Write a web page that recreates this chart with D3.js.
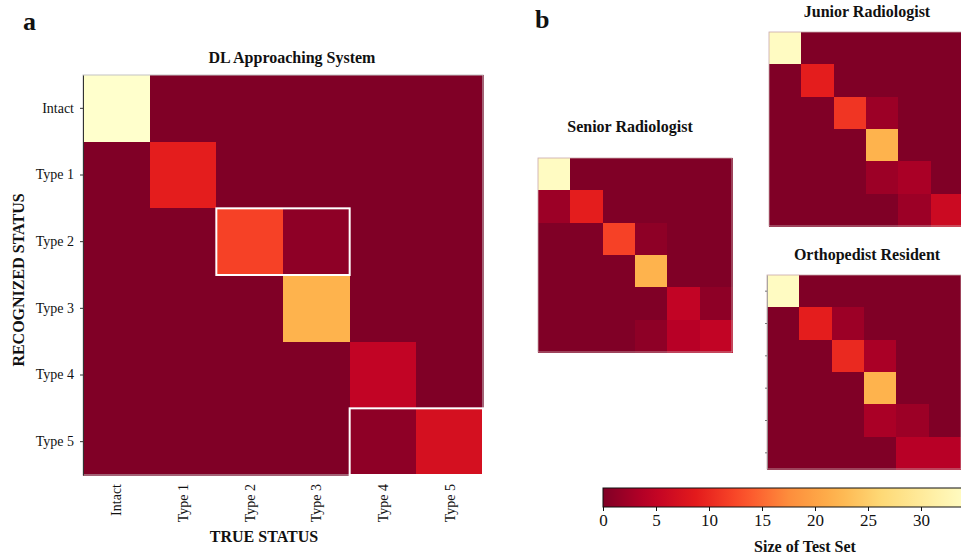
<!DOCTYPE html>
<html>
<head>
<meta charset="utf-8">
<script src="https://cdn.jsdelivr.net/npm/d3@7"></script>
<style>
  html, body { margin: 0; padding: 0; background: #fff; }
  svg { display: block; }
  text { font-family: "Liberation Serif", "Times New Roman", serif; fill: #111; }
</style>
</head>
<body>
<svg id="chart" width="961" height="556"></svg>
<script>
// ---------- data ----------
const categories = ["Intact", "Type 1", "Type 2", "Type 3", "Type 4", "Type 5"];
const colorMax = 35;
const colorTicks = [0, 5, 10, 15, 20, 25, 30];

// rows = recognized status, columns = true status
const dlMatrix = [
  [35, 0, 0, 0, 0, 0],
  [0, 9, 0, 0, 0, 0],
  [0, 0, 12, 1, 0, 0],
  [0, 0, 0, 22, 0, 0],
  [0, 0, 0, 0, 5, 0],
  [0, 0, 0, 0, 1, 7]
];
const seniorMatrix = [
  [34, 0, 0, 0, 0, 0],
  [2, 9, 0, 0, 0, 0],
  [0, 0, 12, 1, 0, 0],
  [0, 0, 0, 22, 0, 0],
  [0, 0, 0, 0, 5, 1],
  [0, 0, 0, 1, 4, 5]
];
const juniorMatrix = [
  [34, 0, 0, 0, 0, 0],
  [0, 9, 0, 0, 0, 0],
  [0, 0, 11, 2, 0, 0],
  [0, 0, 0, 22, 0, 0],
  [0, 0, 0, 2, 3, 0],
  [0, 0, 0, 0, 2, 6]
];
const residentMatrix = [
  [34, 0, 0, 0, 0, 0],
  [0, 9, 2, 0, 0, 0],
  [0, 0, 10, 3, 0, 0],
  [0, 0, 0, 22, 0, 0],
  [0, 0, 0, 3, 2, 0],
  [0, 0, 0, 0, 4, 4]
];
const highlights = [
  { row: "Type 2", from: "Type 2", to: "Type 3" },
  { row: "Type 5", from: "Type 4", to: "Type 5" }
];

// ---------- colour ----------
const interp = d3.piecewise(d3.interpolateRgb, d3.schemeYlOrRd[9].slice().reverse());
const color = d3.scaleSequential(interp).domain([0, colorMax]);

const svg = d3.select("#chart");

function cellsOf(matrix) {
  const out = [];
  matrix.forEach((row, i) => row.forEach((v, j) => out.push({ r: categories[i], c: categories[j], v })));
  return out;
}

function drawHeatmap(g, matrix, x, y) {
  g.append("g").selectAll("rect").data(cellsOf(matrix)).join("rect")
    .attr("x", d => x(d.c))
    .attr("y", d => y(d.r))
    .attr("width", x.bandwidth() + 0.5)
    .attr("height", y.bandwidth() + 0.5)
    .attr("fill", d => color(d.v))
    .attr("shape-rendering", "crispEdges");
}

// ---------- panel a ----------
const mainX = d3.scaleBand().domain(categories).range([83, 483]);
const mainY = d3.scaleBand().domain(categories).range([75, 475]);
const gA = svg.append("g");
drawHeatmap(gA, dlMatrix, mainX, mainY);
gA.append("rect")
  .attr("x", 83).attr("y", 75).attr("width", 400).attr("height", 400)
  .attr("fill", "none").attr("stroke", "#c4c4c4").attr("stroke-width", 1);

// highlight boxes
gA.append("g").selectAll("rect").data(highlights).join("rect")
  .attr("x", d => mainX(d.from))
  .attr("y", d => mainY(d.row))
  .attr("width", d => mainX(d.to) + mainX.bandwidth() - mainX(d.from))
  .attr("height", mainY.bandwidth())
  .attr("fill", "none").attr("stroke", "#fff").attr("stroke-width", 2);

// y axis
const yAx = gA.append("g").attr("transform", "translate(83,0)")
  .call(d3.axisLeft(mainY).tickSize(3).tickSizeOuter(0).tickPadding(6));
yAx.select(".domain").attr("stroke", "#333");
yAx.selectAll("line").attr("stroke", "#333");
yAx.selectAll("text").style("font-size", "14px").style("font-family", "Liberation Serif");

// x axis
const xAx = gA.append("g").attr("transform", "translate(0,475)")
  .call(d3.axisBottom(mainX).tickSize(0));
xAx.select(".domain").remove();
xAx.selectAll("text")
  .attr("transform", "rotate(-90)")
  .attr("x", -9).attr("y", 0).attr("dy", "0.35em")
  .style("text-anchor", "end")
  .style("font-size", "14px").style("font-family", "Liberation Serif");

svg.append("text").attr("x", 292).attr("y", 63).attr("text-anchor", "middle")
  .style("font-size", "16px").style("font-weight", "bold").text("DL Approaching System");
svg.append("text").attr("x", 264).attr("y", 542).attr("text-anchor", "middle")
  .style("font-size", "16px").style("font-weight", "bold").text("TRUE STATUS");
svg.append("text").attr("transform", "translate(24,280) rotate(-90)").attr("text-anchor", "middle")
  .style("font-size", "16px").style("font-weight", "bold").text("RECOGNIZED STATUS");
svg.append("text").attr("x", 23).attr("y", 30)
  .style("font-size", "26px").style("font-weight", "bold").text("a");
svg.append("text").attr("x", 535).attr("y", 28)
  .style("font-size", "26px").style("font-weight", "bold").text("b");

// ---------- panel b ----------
const small = [
  { title: "Senior Radiologist", m: seniorMatrix, x0: 538, y0: 158, tx: 630, ty: 132, ticks: false },
  { title: "Junior Radiologist", m: juniorMatrix, x0: 769, y0: 32, tx: 867, ty: 17, ticks: false },
  { title: "Orthopedist Resident", m: residentMatrix, x0: 767, y0: 275, tx: 867, ty: 260, ticks: true }
];
small.forEach(p => {
  const sx = d3.scaleBand().domain(categories).range([p.x0, p.x0 + 194]);
  const sy = d3.scaleBand().domain(categories).range([p.y0, p.y0 + 194]);
  const g = svg.append("g");
  drawHeatmap(g, p.m, sx, sy);
  g.append("rect").attr("x", p.x0).attr("y", p.y0).attr("width", 194).attr("height", 194)
    .attr("fill", "none").attr("stroke", "#c9a8ac").attr("stroke-width", 0.8);
  if (p.ticks) {
    const ax = g.append("g").attr("transform", `translate(${p.x0},0)`)
      .call(d3.axisLeft(sy).tickSize(2).tickSizeOuter(0).tickFormat(""));
    ax.select(".domain").attr("stroke", "#999").attr("stroke-width", 0.8);
    ax.selectAll("line").attr("stroke", "#777");
  }
  svg.append("text").attr("x", p.tx).attr("y", p.ty).attr("text-anchor", "middle")
    .style("font-size", "16px").style("font-weight", "bold").text(p.title);
});

// ---------- colour bar ----------
const cbX = d3.scaleLinear().domain([0, colorMax]).range([603, 974]);
const defs = svg.append("defs");
const grad = defs.append("linearGradient").attr("id", "cbgrad")
  .attr("gradientUnits", "userSpaceOnUse")
  .attr("x1", cbX(0)).attr("x2", cbX(colorMax)).attr("y1", 0).attr("y2", 0);
grad.selectAll("stop").data(d3.range(0, 1.0001, 0.05)).join("stop")
  .attr("offset", d => d)
  .attr("stop-color", d => color(d * colorMax));
svg.append("rect").attr("x", cbX(0)).attr("y", 488)
  .attr("width", cbX(colorMax) - cbX(0)).attr("height", 19)
  .attr("fill", "url(#cbgrad)").attr("stroke", "#111").attr("stroke-width", 1);
const cbAx = svg.append("g").attr("transform", "translate(0,507)")
  .call(d3.axisBottom(cbX).tickValues(colorTicks).tickSize(4).tickPadding(3));
cbAx.select(".domain").remove();
cbAx.selectAll("line").attr("stroke", "#111");
cbAx.selectAll("text").style("font-size", "17px").style("font-family", "Liberation Serif");
svg.append("text").attr("x", 805).attr("y", 552).attr("text-anchor", "middle")
  .style("font-size", "16px").style("font-weight", "bold").text("Size of Test Set");
</script>
</body>
</html>
